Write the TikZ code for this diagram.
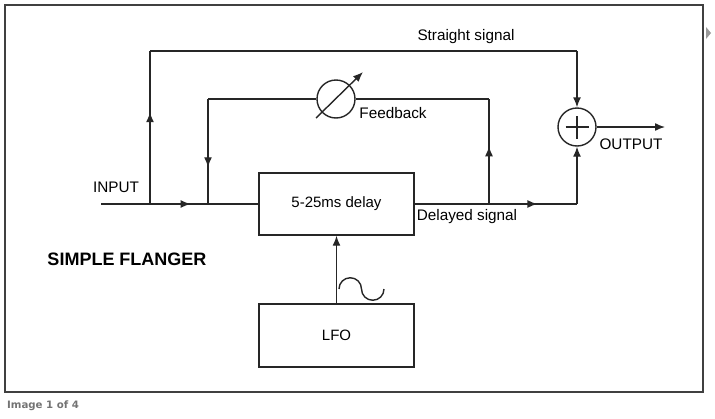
\documentclass[tikz,border=0pt]{standalone}
\usepackage{fontspec}
\setmainfont{Liberation Sans}
\newfontfamily\capfont{DejaVu Sans}
\usetikzlibrary{arrows.meta,decorations.markings}
\tikzset{
  sig/.style={line width=1.4pt, draw=black!85},
  blok/.style={draw=black!85, line width=1.4pt, minimum width=155pt, minimum height=62pt, inner sep=0pt, font=\fontsize{15}{18}\selectfont},
  halka/.style={circle, draw=black!85, line width=1.4pt, minimum size=38pt, inner sep=0pt},
  etiket/.style={font=\fontsize{15.3}{18}\selectfont},
  ok/.style={-{Latex[length=10pt,width=8pt]}},
  ortaok/.style={postaction={decorate}, decoration={markings, mark=at position #1 with {\arrow{Latex[length=10pt,width=8pt]}}}},
}
\begin{document}
\begin{tikzpicture}[x=1pt,y=-1pt]
  \useasboundingbox (0,0) rectangle (715,418);
  % Frame
  \draw[line width=1.6pt, black!75] (5,5) rectangle (703,392);
  \fill[black!40] (706,27) -- (711,33) -- (706,39) -- cycle;
  \node[font=\capfont\bfseries\fontsize{10.2}{12}\selectfont, text=black!55] (cap) at (43,406) {Image 1 of 4};

  % Blocks
  \node[blok] (delay) at (336.5,204) {5-25ms delay};
  \node[blok, minimum height=63pt] (lfo) at (336.5,335.5) {LFO};
  \node[halka] (sum) at (577,127) {};
  \node[halka] (pot) at (336,99) {};

  % Corners and branch points
  \coordinate (in) at (101,204);
  \coordinate (s1) at (150,204);
  \coordinate (s2) at (208,204);
  \coordinate (tl) at (150,51);
  \coordinate (tr) at (577,51);
  \coordinate (ftl) at (208,99);
  \coordinate (ftr) at (489,99);
  \coordinate (tap) at (489,204);
  \coordinate (dr) at (577,204);
  \coordinate (out) at (665,127);
  \coordinate (pa) at (316,118);
  \coordinate (pb) at (363,72);

  % Input and straight signal
  \draw[sig] (in) -- (s1);
  \draw[sig, ortaok=0.7] (s1) -- (s2);
  \draw[sig] (s2) -- (delay.west);
  \draw[sig, ortaok=0.6] (s1) -- (tl);
  \draw[sig] (tl) -- (tr);
  \draw[sig, ok] (tr) -- (sum.north);

  % Feedback loop
  \draw[sig, ortaok=0.55] (tap) -- (ftr);
  \draw[sig] (ftr) -- (pot.east);
  \draw[sig] (pot.west) -- (ftl);
  \draw[sig, ortaok=0.65] (ftl) -- (s2);
  \draw[sig, ok] (pa) -- (pb);

  % Delayed signal and output
  \draw[sig] (delay.east) -- (tap);
  \draw[sig, ortaok=0.55] (tap) -- (dr);
  \draw[sig, ok] (dr) -- (sum.south);
  \draw[sig, ok] (sum.east) -- (out);
  \draw[sig] ([xshift=-11.5pt]sum.center) -- ([xshift=11.5pt]sum.center);
  \draw[sig] ([yshift=-11.5pt]sum.center) -- ([yshift=11.5pt]sum.center);

  % LFO
  \draw[sig, ok] (lfo.north) -- (delay.south);
  \draw[sig] (339,289) arc[start angle=180, end angle=360, radius=11.25] arc[start angle=180, end angle=0, radius=11.25];

  % Labels
  \node[etiket] (lstraight) at (466,37) {Straight signal};
  \node[etiket] (lfeed) at (393,113) {Feedback};
  \node[etiket] (lout) at (631,144) {OUTPUT};
  \node[etiket] (ldel) at (467,217) {Delayed signal};
  \node[etiket] (lin) at (116,187) {INPUT};
  \node[font=\bfseries\fontsize{18}{21}\selectfont] (title) at (127,259) {SIMPLE FLANGER};
\end{tikzpicture}
\end{document}
